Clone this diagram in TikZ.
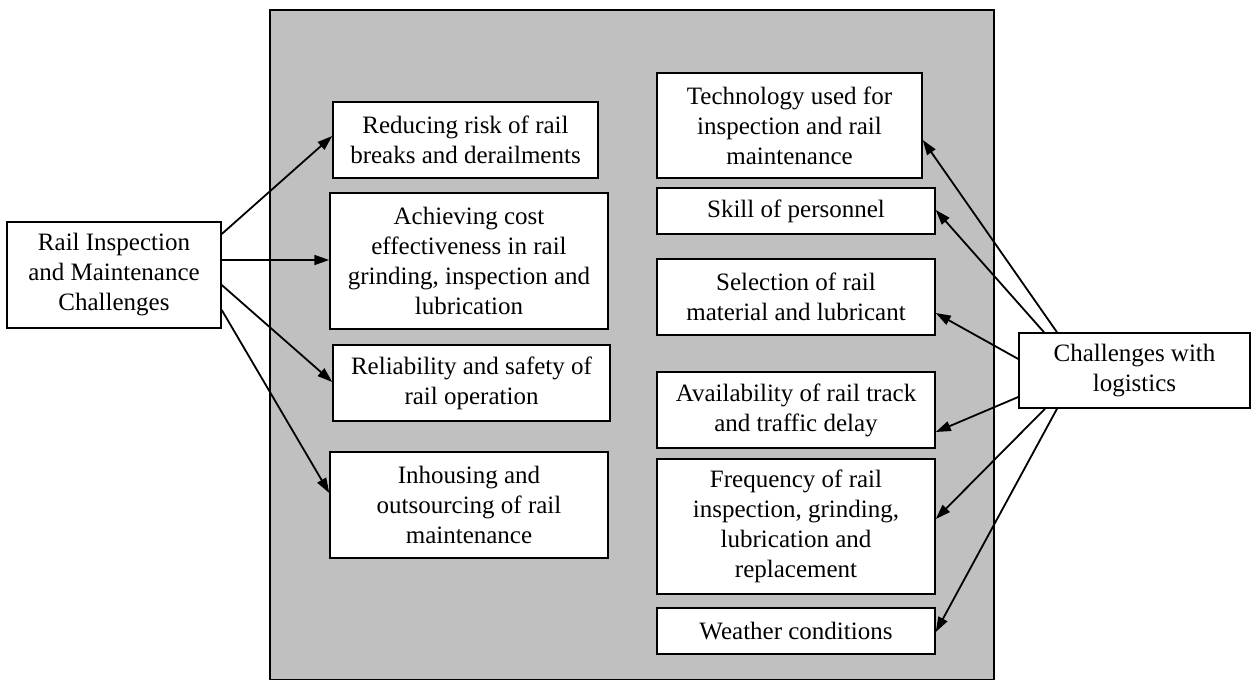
\documentclass[tikz,border=0pt]{standalone}
\usepackage{fontspec}
\setmainfont{Liberation Serif}
\usetikzlibrary{arrows.meta}
\definecolor{panelgray}{HTML}{C0C0C0}
\tikzset{
  box/.style={draw=black, fill=white, line width=1.5pt, inner sep=0pt, align=center,
    font=\fontsize{25}{30}\selectfont},
  conn/.style={line width=1.8pt, -{Triangle[length=15pt,width=10pt]}},
  panel/.style={draw=black, fill=panelgray, line width=1.5pt}
}
\begin{document}
\begin{tikzpicture}[x=1pt,y=-1pt]
\useasboundingbox (0,0) rectangle (1252,680);
\draw[panel] (270,10) rectangle (994,679.5);

\node[box, minimum width=214pt, minimum height=106pt] (rail) at (114,275) {Rail Inspection\\and Maintenance\\Challenges};

\node[box, minimum width=265pt, minimum height=76pt] (reduce) at (465.5,140) {Reducing risk of rail\\breaks and derailments};
\node[box, minimum width=278pt, minimum height=136pt] (achieve) at (469,261) {Achieving cost\\effectiveness in rail\\grinding, inspection and\\lubrication};
\node[box, minimum width=277pt, minimum height=76pt] (reliab) at (471.5,383) {Reliability and safety of\\rail operation};
\node[box, minimum width=278pt, minimum height=106pt] (inhouse) at (469,505) {Inhousing and\\outsourcing of rail\\maintenance};

\node[box, minimum width=265pt, minimum height=105pt] (tech) at (789.5,125.5) {Technology used for\\inspection and rail\\maintenance};
\node[box, minimum width=278pt, minimum height=46pt] (skill) at (796,211) {Skill of personnel};
\node[box, minimum width=278pt, minimum height=76pt] (select) at (796,297) {Selection of rail\\material and lubricant};
\node[box, minimum width=278pt, minimum height=76pt] (avail) at (796,410) {Availability of rail track\\and traffic delay};
\node[box, minimum width=278pt, minimum height=135pt] (freq) at (796,526.5) {Frequency of rail\\inspection, grinding,\\lubrication and\\replacement};
\node[box, minimum width=278pt, minimum height=46pt] (weather) at (796,631) {Weather conditions};

\node[box, minimum width=231pt, minimum height=75pt] (logi) at (1134.5,370.5) {Challenges with\\logistics};

% left arrows
\draw[conn] ([yshift=41pt]rail.east) -- ([yshift=4pt]reduce.west);
\draw[conn] ([yshift=15pt]rail.east) -- ([yshift=1pt]achieve.west);
\draw[conn] ([yshift=-10pt]rail.east) -- ([yshift=1pt]reliab.west);
\draw[conn] ([yshift=-35pt]rail.east) -- ([yshift=12pt]inhouse.west);

% right arrows
\draw[conn] ([xshift=-77.5pt]logi.north) -- ([yshift=-14.5pt]tech.east);
\draw[conn] ([xshift=-90.5pt]logi.north) -- ([yshift=1pt]skill.east);
\draw[conn] ([yshift=11.5pt]logi.west) -- ([yshift=-16pt]select.east);
\draw[conn] ([yshift=-26.5pt]logi.west) -- ([yshift=-22pt]avail.east);
\draw[conn] ([xshift=-89.5pt]logi.south) -- ([yshift=7.5pt]freq.east);
\draw[conn] ([xshift=-77.5pt]logi.south) -- ([yshift=-1pt]weather.east);
\end{tikzpicture}
\end{document}
